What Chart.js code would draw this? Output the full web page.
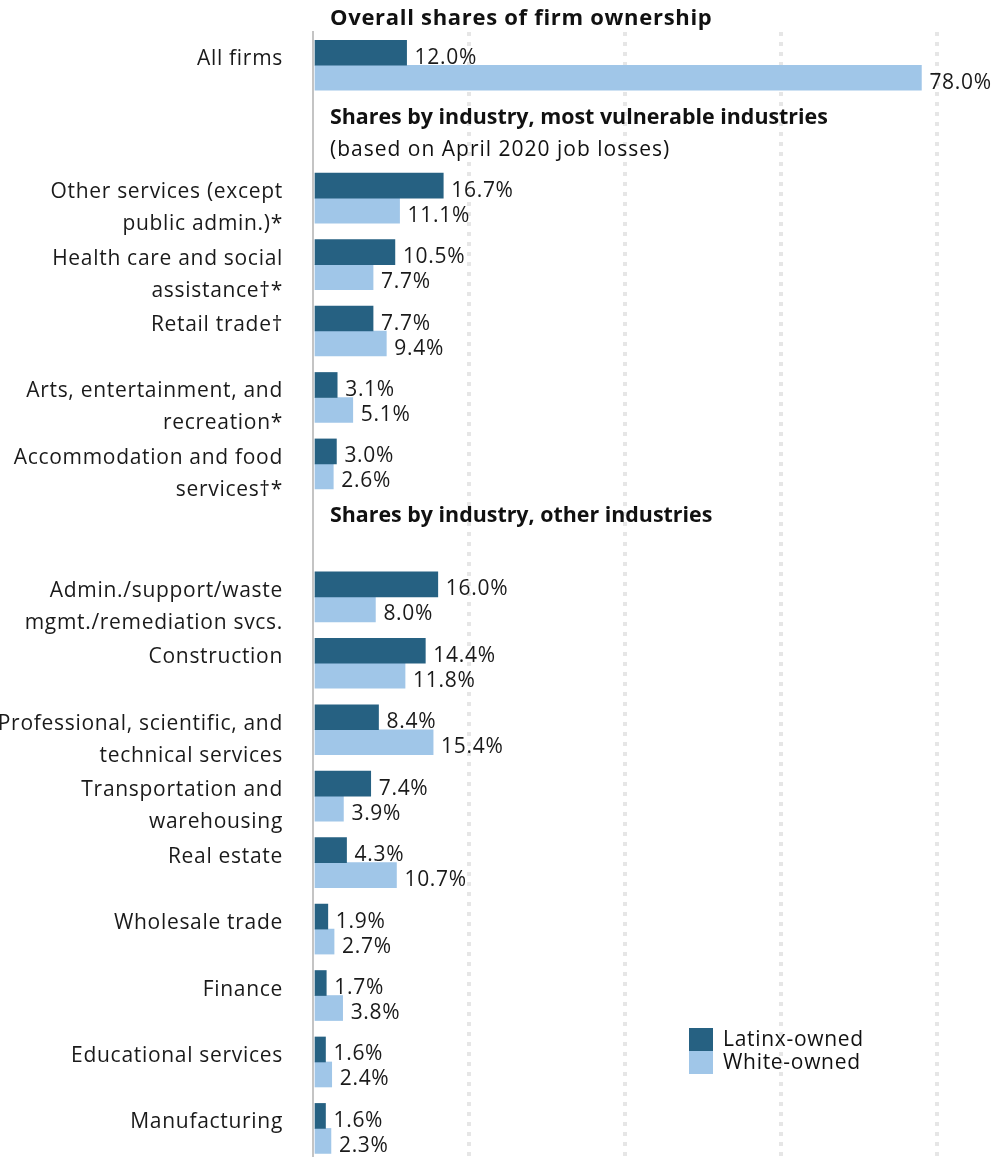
<!DOCTYPE html>
<html>
<head>
<meta charset="utf-8">
<script src="https://cdn.jsdelivr.net/npm/chart.js@4/dist/chart.umd.min.js"></script>
<style>
  html, body { margin: 0; padding: 0; background: #ffffff; }
  #wrap { position: relative; width: 996px; height: 1157px; }
</style>
</head>
<body>
<div id="wrap"><canvas id="c"></canvas></div>
<script>
// Row labels (empty strings are section-header rows)
const categories = [
  ["All firms"],
  [""],
  ["Other services (except", "public admin.)*"],
  ["Health care and social", "assistance\u2020*"],
  ["Retail trade\u2020"],
  ["Arts, entertainment, and", "recreation*"],
  ["Accommodation and food", "services\u2020*"],
  [""],
  ["Admin./support/waste", "mgmt./remediation svcs."],
  ["Construction"],
  ["Professional, scientific, and", "technical services"],
  ["Transportation and", "warehousing"],
  ["Real estate"],
  ["Wholesale trade"],
  ["Finance"],
  ["Educational services"],
  ["Manufacturing"]
];
const latinxOwned = [12.0, null, 16.7, 10.5, 7.7, 3.1, 3.0, null, 16.0, 14.4, 8.4, 7.4, 4.3, 1.9, 1.7, 1.6, 1.6];
const whiteOwned  = [78.0, null, 11.1, 7.7, 9.4, 5.1, 2.6, null, 8.0, 11.8, 15.4, 3.9, 10.7, 2.7, 3.8, 2.4, 2.3];
const seriesNames = ["Latinx-owned", "White-owned"];
const seriesColors = ["#266182", "#a0c6e8"];
const sectionTitles = [
  { row: -1, bold: "Overall shares of firm ownership", sub: "" },
  { row: 1, bold: "Shares by industry, most vulnerable industries", sub: "(based on April 2020 job losses)" },
  { row: 7, bold: "Shares by industry, other industries", sub: "" }
];
const xGridTicks = [0, 20, 40, 60, 80];
const Y_MIN = -0.5, Y_MAX = 16.43;

const FONT = "'Open Sans', sans-serif";

function toPoints(arr) {
  const pts = [];
  arr.forEach((v, i) => { if (v !== null) pts.push({ x: v, y: i }); });
  return pts;
}

const spacingPlugin = {
  id: 'spacing',
  beforeDraw(chart) { chart.ctx.letterSpacing = '0.7px'; }
};

const labelPlugin = {
  id: 'valueLabels',
  afterDatasetsDraw(chart) {
    const ctx = chart.ctx;
    ctx.save();
    ctx.letterSpacing = '0.7px';
    ctx.font = "21px " + FONT;
    ctx.fillStyle = "#1a1a1a";
    ctx.textAlign = "left";
    ctx.textBaseline = "middle";
    chart.data.datasets.forEach((ds, di) => {
      const meta = chart.getDatasetMeta(di);
      meta.data.forEach((el, i) => {
        const v = ds.data[i].x;
        ctx.fillText(v.toFixed(1) + "%", el.x + 8, el.y + 5);
      });
    });
    ctx.restore();
  }
};

const headerPlugin = {
  id: 'sectionHeaders',
  afterDraw(chart) {
    const ctx = chart.ctx;
    const y = chart.scales.y;
    const left = chart.chartArea.left + 17;
    ctx.save();
    ctx.fillStyle = "#111";
    ctx.textAlign = "left";
    ctx.textBaseline = "middle";
    sectionTitles.forEach(s => {
      if (s.row < 0) {
        ctx.letterSpacing = '0.7px';
        ctx.font = "bold 22px " + FONT;
        ctx.fillText(s.bold, left, chart.chartArea.top - 13);
        return;
      }
      const cy = y.getPixelForValue(s.row) - 14;
      ctx.letterSpacing = '0px';
      ctx.font = "bold 21.4px " + FONT;
      ctx.fillText(s.bold, left, cy);
      if (s.sub) {
        ctx.letterSpacing = '1px';
        ctx.font = "21px " + FONT;
        ctx.fillText(s.sub, left, cy + 32);
      }
    });
    // legend
    const lx = chart.chartArea.left + 376;
    const ly = chart.chartArea.bottom - 129;
    ctx.letterSpacing = '0.7px';
    seriesNames.forEach((n, i) => {
      ctx.fillStyle = seriesColors[i];
      ctx.fillRect(lx, ly + i * 23, 24, 23);
      ctx.fillStyle = "#111";
      ctx.font = "21px " + FONT;
      ctx.fillText(n, lx + 34, ly + i * 23 + 12);
    });
    ctx.restore();
  }
};

new Chart(document.getElementById('c'), {
  type: 'bar',
  data: {
    datasets: [
      { label: seriesNames[0], data: toPoints(latinxOwned), backgroundColor: seriesColors[0], barThickness: 25 },
      { label: seriesNames[1], data: toPoints(whiteOwned), backgroundColor: seriesColors[1], barThickness: 25 }
    ]
  },
  options: {
    indexAxis: 'y',
    responsive: true,
    maintainAspectRatio: false,
    animation: false,
    layout: { padding: { top: 32, right: 59, bottom: 0, left: 0 } },
    plugins: { legend: { display: false }, tooltip: { enabled: false } },
    scales: {
      x: {
        type: 'linear', min: 0, max: 80,
        position: 'top',
        border: { display: false, dash: [4, 6] },
        ticks: { display: false },
        afterBuildTicks: (s) => { s.ticks = xGridTicks.map(v => ({ value: v })); },
        afterFit: (s) => { s.height = 0; s.paddingLeft = 0; s.paddingRight = 0; },
        grid: {
          drawTicks: false,
          color: (c) => c.tick && c.tick.value === 0 ? 'rgba(0,0,0,0)' : '#e6e6e6',
          lineWidth: 4
        }
      },
      y: {
        type: 'linear', min: Y_MIN, max: Y_MAX, reverse: true, bounds: 'data', offset: false,
        border: { display: true, color: '#c4c4c4', width: 2 },
        grid: { display: false, offset: false },
        afterFit: (s) => { s.width = 313; s.paddingTop = 0; s.paddingBottom = 0; },
        afterBuildTicks: (s) => {
          s.ticks = categories.map((_, i) => ({ value: i }));
          s.min = Y_MIN; s.max = Y_MAX;
        },
        ticks: {
          autoSkip: false,
          padding: 22,
          color: '#1a1a1a',
          font: { family: FONT, size: 21, lineHeight: 1.52 },
          labelOffset: 10,
          callback: (v) => {
            const l = categories[v] || [""];
            return l.length === 1 ? [l[0], ""] : l;
          }
        }
      }
    }
  },
  plugins: [spacingPlugin, labelPlugin, headerPlugin]
});
</script>
</body>
</html>
